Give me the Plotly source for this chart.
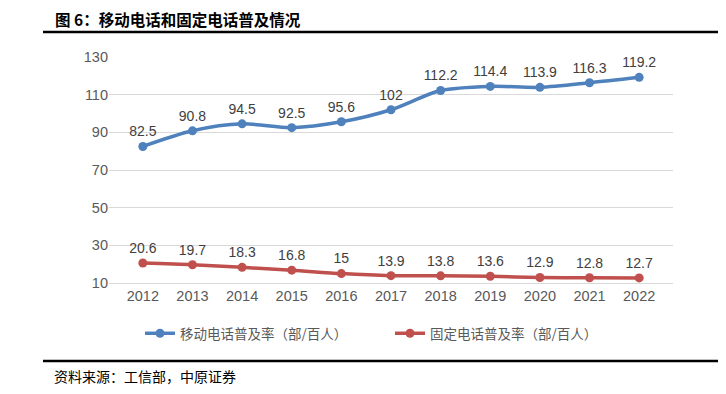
import plotly.graph_objects as go

years = ["2012","2013","2014","2015","2016","2017","2018","2019","2020","2021","2022"]
mobile = [82.5, 90.8, 94.5, 92.5, 95.6, 102, 112.2, 114.4, 113.9, 116.3, 119.2]
fixed = [20.6, 19.7, 18.3, 16.8, 15, 13.9, 13.8, 13.6, 12.9, 12.8, 12.7]
mobile_name = "移动电话普及率（部/百人）"
fixed_name = "固定电话普及率（部/百人）"
yticks = [10, 30, 50, 70, 90, 110, 130]

# page body has an 8px margin; compensate
OFF = 8
W, H = 726 - OFF, 394 - OFF
L, T, R, B = 109 - OFF, 57 - OFF, 673 - OFF, 283 - OFF  # plot area in figure coords
PW, PH = R - L, B - T

def px(x):
    return (x - OFF - L) / PW

def py(y):
    return (B - (y - OFF)) / PH

font_cjk = "Noto Sans CJK SC"
fig = go.Figure()
for name, vals, col in [(mobile_name, mobile, "#4F81BD"), (fixed_name, fixed, "#C0504D")]:
    fig.add_trace(go.Scatter(x=years, y=vals, name=name, mode="lines+markers+text",
                             line=dict(color=col, width=3.5, shape="spline", smoothing=0.8),
                             marker=dict(size=9, color=col),
                             text=[str(v) for v in vals], textposition="top center",
                             textfont=dict(size=14, color="#404040", family="Liberation Sans")))

fig.update_layout(
    width=W, height=H,
    margin=dict(l=L, r=W - R, t=T, b=H - B, autoexpand=False),
    plot_bgcolor="white", paper_bgcolor="white",
    showlegend=True,
    legend=dict(orientation="h", x=px(140), xanchor="left", y=py(318), yanchor="top",
                font=dict(size=13.5, color="#595959", family=font_cjk),
                entrywidth=205, entrywidthmode="pixels"),
    xaxis=dict(type="category", tickfont=dict(size=14.5, color="#595959", family="Liberation Sans"),
               showgrid=False, showline=True, linecolor="#D9D9D9", ticks=""),
    yaxis=dict(range=[10, 130], tickvals=yticks, showgrid=True, gridcolor="#D9D9D9",
               zeroline=False, tickfont=dict(size=14.5, color="#595959", family="Liberation Sans"),
               ticks="", ticklen=0),
)
fig.add_annotation(text="<b>图 6：移动电话和固定电话普及情况</b>", xref="paper", yref="paper",
                   x=px(53), y=py(19), xanchor="left", yanchor="middle",
                   showarrow=False, font=dict(size=15.5, color="#000", family=font_cjk))
fig.add_annotation(text="资料来源：工信部，中原证券", xref="paper", yref="paper",
                   x=px(52), y=py(376), xanchor="left", yanchor="middle",
                   showarrow=False, font=dict(size=14, color="#000", family=font_cjk))
for yy in (32, 361):
    fig.add_shape(type="line", xref="paper", yref="paper", x0=px(43), x1=px(730),
                  y0=py(yy), y1=py(yy), line=dict(color="black", width=2.5))
fig.write_html("out.html")
